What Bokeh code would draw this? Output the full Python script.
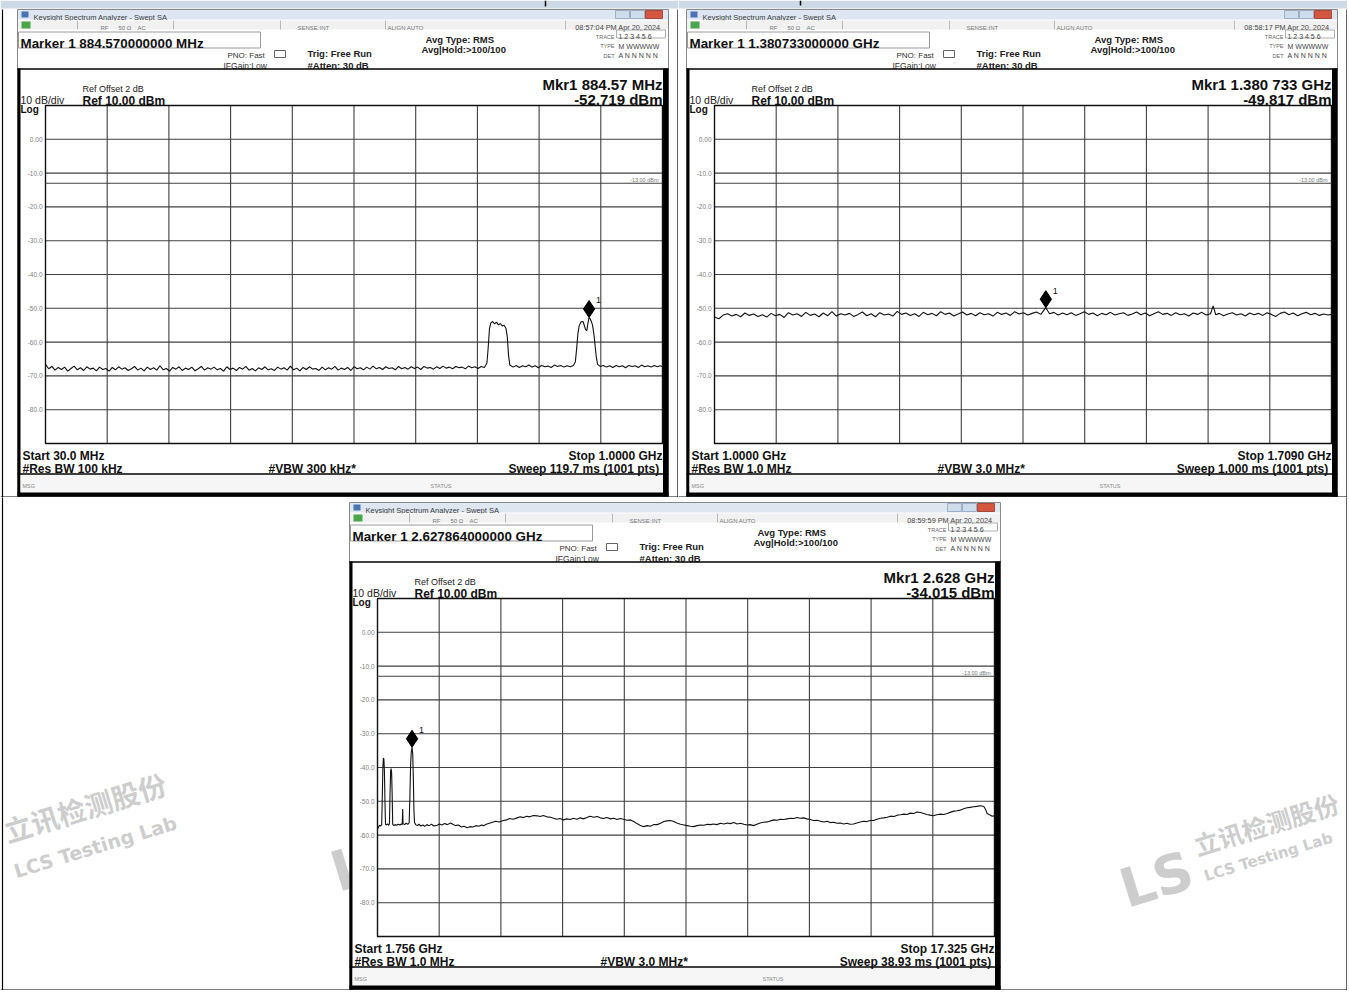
from bokeh.plotting import figure
from bokeh.models import Range1d
from bokeh.layouts import column, row
from bokeh.embed import file_html
from bokeh.resources import INLINE
from bokeh.core.properties import value

FONT = "Liberation Sans"
CJK = "Noto Sans CJK SC"

# ---------------- data ----------------
# Panel 1: 30 MHz - 1 GHz, MHz / dBm
p1_freq = [30, 35, 40, 45, 50, 55, 60, 65, 70, 75, 80, 85, 90, 95, 100, 105, 110, 115, 120, 125,
           130, 135, 140, 145, 150, 155, 160, 165, 170, 175, 180, 185, 190, 195, 200, 205, 210, 215,
           220, 225, 230, 235, 240, 245, 250, 255, 260, 265, 270, 275, 280, 285, 290, 295, 300, 305,
           310, 315, 320, 325, 330, 335, 340, 345, 350, 355, 360, 365, 370, 375, 380, 385, 390, 395,
           400, 405, 410, 415, 420, 425, 430, 435, 440, 445, 450, 455, 460, 465, 470, 475, 480, 485,
           490, 495, 500, 505, 510, 515, 520, 525, 530, 535, 540, 545, 550, 555, 560, 565, 570, 575,
           580, 585, 590, 595, 600, 605, 610, 615, 620, 625, 630, 635, 640, 645, 650, 655, 660, 665,
           670, 675, 680, 685, 690, 695, 700, 705, 710, 715, 720,
           724, 726, 728, 730, 733, 736, 739, 742, 745, 748, 751, 754, 756, 758, 760,
           765, 770, 775, 780, 785, 790, 795, 800, 805, 810, 815, 820, 825, 830, 835, 840, 845, 850,
           855, 860, 863, 865, 867, 869, 872, 875, 877, 879, 881, 883, 884.57, 886, 888, 890, 892,
           894, 896, 898, 902, 907, 912, 917, 922, 927, 932, 937, 942, 947, 952, 957, 962, 967, 972,
           977, 982, 987, 992, 996, 1000]
p1_level = [-66.6, -67.9, -67.2, -68.3, -67.5, -68.1, -67.4, -68.6, -67.8, -67.1, -68.2, -67.6, -68.4,
            -67.3, -68.0, -67.7, -68.5, -67.4, -68.1, -67.8, -68.6, -67.5, -68.2, -67.3, -68.0, -67.6,
            -68.4, -67.9, -67.2, -68.3, -67.7, -68.5, -67.4, -68.1, -67.6, -68.3, -67.0, -68.2, -67.8,
            -68.6, -67.5, -68.0, -67.3, -68.4, -67.7, -68.1, -67.4, -68.5, -67.9, -67.2, -68.3, -67.6,
            -68.0, -67.4, -68.2, -67.8, -68.6, -67.3, -68.1, -67.7, -68.4, -67.5, -68.0, -67.2, -68.3,
            -67.8, -68.5, -67.6, -68.1, -67.3, -68.2, -67.9, -68.4, -67.4, -68.0, -67.6, -68.3, -67.1,
            -68.2, -67.7, -68.5, -67.5, -68.1, -67.3, -68.0, -67.8, -68.4, -67.4, -68.2, -67.6, -68.0,
            -67.2, -68.3, -67.7, -68.1, -67.5, -68.4, -67.3, -67.9, -67.6, -68.2, -67.4, -68.0, -67.1,
            -67.9, -67.5, -68.1, -67.3, -67.8, -67.6, -68.2, -67.2, -67.9, -67.5, -68.0, -67.3, -67.8,
            -67.4, -68.1, -67.2, -67.7, -67.5, -68.0, -67.3, -67.8, -67.1, -67.7, -67.4, -67.9, -67.2,
            -67.6, -67.4, -67.9, -67.1, -67.6, -67.3, -67.8, -67.2, -67.5,
            -66.2, -61.5, -56.0, -54.4, -53.9, -54.6, -54.1, -54.9, -54.5, -55.2, -55.0, -56.0, -58.5,
            -64.0, -66.8,
            -67.4, -66.9, -67.5, -67.0, -67.3, -66.8, -67.4, -67.0, -67.6, -66.9, -67.3, -67.1, -67.5,
            -66.8, -67.2, -66.9, -67.4, -67.0, -67.3, -66.9, -65.8, -62.0, -57.5, -55.2, -54.0, -53.9,
            -55.0, -56.3, -56.6, -54.2, -52.719, -53.0, -53.8, -55.0, -57.4, -61.0, -64.5, -66.6, -67.2,
            -66.9, -67.4, -67.0, -67.5, -66.9, -67.3, -67.0, -67.6, -66.9, -67.2, -67.0, -67.5, -66.8,
            -67.3, -67.0, -67.4, -66.9, -67.3, -67.0, -67.2]

# Panel 2: 1.0 GHz - 1.709 GHz, MHz / dBm
p2_freq = [1000, 1005, 1010, 1015, 1020, 1025, 1030, 1035, 1040, 1045, 1050, 1055, 1060, 1065, 1070,
           1075, 1080, 1085, 1090, 1095, 1100, 1105, 1110, 1115, 1120, 1125, 1130, 1135, 1140, 1145,
           1150, 1155, 1160, 1165, 1170, 1175, 1180, 1185, 1190, 1195, 1200, 1205, 1210, 1215, 1220,
           1225, 1230, 1235, 1240, 1245, 1250, 1255, 1260, 1265, 1270, 1275, 1280, 1285, 1290, 1295,
           1300, 1305, 1310, 1315, 1320, 1325, 1330, 1335, 1340, 1345, 1350, 1355, 1360, 1365, 1370,
           1375, 1380.733, 1385, 1390, 1395, 1400, 1405, 1410, 1415, 1420, 1425, 1430, 1435, 1440,
           1445, 1450, 1455, 1460, 1465, 1470, 1475, 1480, 1485, 1490, 1495, 1500, 1505, 1510, 1515,
           1520, 1525, 1530, 1535, 1540, 1545, 1550, 1555, 1560, 1565, 1570, 1573, 1576, 1580, 1585,
           1590, 1595, 1600, 1605, 1610, 1615, 1620, 1625, 1630, 1635, 1640, 1645, 1650, 1655, 1660,
           1665, 1670, 1675, 1680, 1685, 1690, 1695, 1700, 1705, 1709]
p2_level = [-52.6, -53.1, -52.0, -51.6, -52.3, -51.8, -52.5, -51.4, -52.1, -51.7, -52.4, -51.9, -52.6,
            -51.5, -52.2, -51.8, -52.7, -51.3, -52.0, -51.6, -52.4, -51.2, -52.1, -51.7, -52.5, -51.4,
            -52.2, -51.0, -52.3, -51.6, -52.0, -51.5, -52.4, -51.8, -51.1, -52.2, -51.6, -52.5, -51.3,
            -52.0, -51.7, -52.3, -50.9, -51.8, -51.4, -52.1, -51.6, -52.4, -51.2, -51.9, -51.5, -52.2,
            -51.0, -51.8, -51.4, -52.3, -51.7, -51.1, -52.0, -51.5, -52.2, -51.3, -51.9, -51.6, -52.3,
            -51.2, -51.8, -51.4, -52.1, -51.0, -51.7, -51.3, -52.0, -51.5, -51.1, -51.8, -49.817, -51.6,
            -51.2, -52.0, -51.4, -51.9, -51.3, -52.1, -51.6, -51.0, -51.8, -51.4, -52.2, -51.5, -51.9,
            -51.2, -52.0, -51.6, -51.3, -52.1, -51.7, -51.1, -51.9, -51.4, -52.2, -51.6, -51.0, -51.8,
            -51.5, -52.1, -51.3, -51.9, -51.6, -52.3, -51.4, -51.8, -51.2, -52.0, -51.6, -49.3, -51.9,
            -51.5, -52.2, -51.7, -51.3, -52.0, -51.6, -52.3, -51.4, -51.9, -51.5, -52.1, -51.3, -51.8,
            -52.4, -51.5, -51.1, -51.9, -51.4, -52.2, -51.6, -51.2, -51.9, -51.5, -52.1, -51.7, -52.0,
            -51.8]

# Panel 3: 1.756 GHz - 17.325 GHz, GHz / dBm
p3_freq = [1.756, 1.770, 1.790, 1.810, 1.840, 1.862, 1.875, 1.890, 1.905, 1.918, 1.930, 1.945, 1.958,
           1.985, 2.010, 2.040, 2.058, 2.072, 2.088, 2.100, 2.112, 2.125, 2.140, 2.170, 2.200, 2.240,
           2.280, 2.320, 2.360, 2.380, 2.392, 2.400, 2.440, 2.480, 2.520, 2.555, 2.575, 2.592, 2.610,
           2.628, 2.645, 2.660, 2.675, 2.690, 2.720, 2.760, 2.800, 2.850, 2.900, 2.950, 3.000, 3.060,
           3.120, 3.180, 3.262, 3.320, 3.380, 3.450, 3.520, 3.598, 3.660, 3.720, 3.800, 3.870, 3.940,
           4.019, 4.090, 4.160, 4.240, 4.310, 4.380, 4.431, 4.500, 4.580, 4.660, 4.740, 4.820, 4.935,
           5.010, 5.090, 5.180, 5.281, 5.360, 5.440, 5.520, 5.600, 5.690, 5.786, 5.860, 5.940, 6.030,
           6.121, 6.200, 6.280, 6.360, 6.449, 6.530, 6.620, 6.700, 6.790, 6.870, 6.954, 7.040, 7.120,
           7.210, 7.300, 7.380, 7.460, 7.540, 7.635, 7.720, 7.800, 7.880, 7.960, 8.050, 8.140, 8.220,
           8.300, 8.380, 8.468, 8.560, 8.640, 8.720, 8.814, 8.900, 8.980, 9.060, 9.149, 9.230, 9.310,
           9.400, 9.490, 9.571, 9.650, 9.730, 9.820, 9.900, 9.990, 10.080, 10.160, 10.234, 10.320,
           10.410, 10.500, 10.580, 10.660, 10.750, 10.830, 10.915, 11.000, 11.080, 11.160, 11.244,
           11.330, 11.410, 11.500, 11.589, 11.670, 11.760, 11.840, 11.920, 12.010, 12.094, 12.180,
           12.260, 12.340, 12.420, 12.505, 12.590, 12.670, 12.760, 12.850, 12.934, 13.020, 13.100,
           13.180, 13.262, 13.350, 13.430, 13.520, 13.600, 13.680, 13.767, 13.850, 13.940, 14.020,
           14.100, 14.190, 14.272, 14.360, 14.440, 14.530, 14.617, 14.700, 14.790, 14.870, 14.953,
           15.040, 15.120, 15.200, 15.290, 15.370, 15.458, 15.540, 15.620, 15.700, 15.785, 15.870,
           15.960, 16.040, 16.131, 16.220, 16.300, 16.380, 16.467, 16.550, 16.630, 16.710, 16.795,
           16.880, 16.960, 17.014, 17.060, 17.100, 17.140, 17.200, 17.266, 17.300, 17.325]
p3_level = [-58.2, -57.9, -57.4, -57.1, -57.3, -56.9, -50.0, -40.5, -37.2, -37.6, -41.0, -50.5, -56.8,
            -57.0, -56.7, -57.1, -56.6, -48.0, -41.0, -40.3, -41.5, -47.5, -56.8, -57.2, -56.9, -57.1,
            -56.8, -57.0, -56.7, -56.9, -52.3, -56.6, -56.9, -56.5, -56.8, -56.4, -48.0, -39.0, -35.2,
            -34.015, -36.0, -43.0, -52.5, -56.3, -56.9, -57.2, -56.8, -57.3, -57.0, -57.4, -56.9, -57.2,
            -56.8, -57.3, -57.1, -56.7, -57.0, -56.6, -56.9, -56.4, -56.8, -57.2, -57.0, -57.6, -57.4,
            -57.8, -57.5, -57.6, -57.2, -57.4, -57.0, -57.2, -56.8, -56.5, -56.2, -55.9, -56.1, -55.7,
            -55.5, -55.1, -55.3, -54.9, -54.6, -54.8, -54.4, -54.6, -54.2, -54.3, -54.5, -54.2, -54.6,
            -54.7, -55.0, -55.3, -55.1, -55.5, -55.2, -55.4, -55.0, -55.3, -54.9, -55.2, -54.8, -54.4,
            -54.7, -54.5, -54.9, -55.1, -54.8, -55.2, -55.0, -55.4, -55.1, -55.3, -55.6, -55.5, -56.0,
            -56.6, -57.1, -57.5, -57.2, -57.4, -56.9, -56.9, -56.5, -56.0, -55.8, -55.7, -56.0, -56.4,
            -56.8, -57.0, -57.2, -57.4, -57.5, -57.2, -57.0, -57.1, -56.8, -56.9, -56.7, -56.9,
            -56.5, -56.7, -56.4, -56.6, -56.3, -56.7, -56.5, -56.8, -57.0, -56.9, -57.2,
            -56.8, -56.4, -56.2, -56.1, -55.8, -55.5, -55.6, -55.3, -55.4, -55.2, -55.0,
            -55.1, -54.8, -55.0, -54.9, -55.2, -55.4, -55.7, -55.6, -55.9, -56.1, -55.9,
            -56.3, -56.2, -56.5, -56.4, -56.7, -56.5, -56.8, -56.7, -56.4, -56.1, -55.9,
            -56.0, -55.7, -55.7, -55.3, -55.0, -54.9, -54.7, -54.4, -54.5, -54.1, -54.0,
            -53.8, -53.9, -53.5, -53.6, -53.2, -53.3, -53.6, -53.9, -54.1, -54.3, -54.0,
            -53.8, -53.9, -53.6, -53.2, -52.9, -52.8, -52.6, -52.2, -51.9, -51.8, -51.6,
            -51.5, -51.3, -51.4, -51.6, -52.4, -53.6, -54.0, -54.4, -54.3, -54.6]

y_tick_values = [0, -10, -20, -30, -40, -50, -60, -70, -80]
y_tick_labels = ["0.00", "-10.0", "-20.0", "-30.0", "-40.0", "-50.0", "-60.0", "-70.0", "-80.0"]
limit_level = -13.0

panel1_text = dict(marker="Marker 1 884.570000000 MHz", time="08:57:04 PM Apr 20, 2024",
                   mkr="Mkr1 884.57 MHz", mkrval="-52.719 dBm", start="Start 30.0 MHz",
                   rbw="#Res BW 100 kHz", vbw="#VBW 300 kHz*", stop="Stop 1.0000 GHz",
                   sweep="Sweep  119.7 ms (1001 pts)")
panel2_text = dict(marker="Marker 1 1.380733000000 GHz", time="08:58:17 PM Apr 20, 2024",
                   mkr="Mkr1 1.380 733 GHz", mkrval="-49.817 dBm", start="Start 1.0000 GHz",
                   rbw="#Res BW 1.0 MHz", vbw="#VBW 3.0 MHz*", stop="Stop 1.7090 GHz",
                   sweep="Sweep  1.000 ms (1001 pts)")
panel3_text = dict(marker="Marker 1 2.627864000000 GHz", time="08:59:59 PM Apr 20, 2024",
                   mkr="Mkr1 2.628 GHz", mkrval="-34.015 dBm", start="Start 1.756 GHz",
                   rbw="#Res BW 1.0 MHz", vbw="#VBW 3.0 MHz*", stop="Stop 17.325 GHz",
                   sweep="Sweep  38.93 ms (1001 pts)")

# ---------------- geometry of one analyzer screenshot (panel-local px) ----------------
GL, GT, GW, GH = 28, 96, 617, 338
RTOP, RBOT = 10.0, -90.0


class Panel:
    def __init__(self, W, H, ox, oy, x0, x1):
        self.x0, self.x1 = x0, x1
        self.span = x1 - x0
        self.p = figure(width=W, height=H,
                        x_range=Range1d(self.X(-ox), self.X(W - ox)),
                        y_range=Range1d(self.Y(H - oy), self.Y(-oy)),
                        output_backend="svg", toolbar_location=None, min_border=0,
                        x_axis_location=None, y_axis_location=None,
                        outline_line_color=None, background_fill_color="white",
                        border_fill_color="white")
        self.p.grid.visible = False

    def X(self, lx):
        return self.x0 + (lx - GL) * self.span / GW

    def Y(self, ly):
        return RTOP - (ly - GT) * (RTOP - RBOT) / GH

    def PX(self, f):
        return GL + (f - self.x0) * GW / self.span

    def PY(self, d):
        return GT + (RTOP - d) * GH / (RTOP - RBOT)

    def box(self, l, t, r, b, fill=None, line=None, lw=1.0):
        self.p.quad(left=[self.X(l)], right=[self.X(r)], top=[self.Y(t)], bottom=[self.Y(b)],
                    fill_color=fill, line_color=line, line_width=lw)

    def hl(self, y, xa, xb, color="black", w=1.0):
        self.p.segment(x0=[self.X(xa)], y0=[self.Y(y)], x1=[self.X(xb)], y1=[self.Y(y)],
                       line_color=color, line_width=w)

    def vl(self, x, ya, yb, color="black", w=1.0):
        self.p.segment(x0=[self.X(x)], y0=[self.Y(ya)], x1=[self.X(x)], y1=[self.Y(yb)],
                       line_color=color, line_width=w)

    def txt(self, lx, ly, s, size, bold=False, align="left", color="black",
            baseline="alphabetic", font=FONT, angle=0.0, alpha=1.0):
        self.p.text(x=[self.X(lx)], y=[self.Y(ly)], text=[s], text_font=value(font),
                    text_font_size=value(f"{size}px"),
                    text_font_style="bold" if bold else "normal", text_align=align,
                    text_baseline=baseline, text_color=color, angle=angle, text_alpha=alpha)


def draw_screen(P, freqs, levels, mk_f, mk_v, t):
    # screenshot body
    P.box(0, 0, 651, 487, "white", "#8a8a8a", 1)
    # window title bar
    P.box(0.5, 0.5, 650.5, 10, "#dde6f1", None)
    P.box(4, 2, 11, 8, "#4a74b4", None)
    P.txt(16, 8, "Keysight Spectrum Analyzer - Swept SA", 7.5, color="#3c3c3c")
    P.box(598, 1, 612, 9, "#cfdcec", "#8ea2bd", 0.8)
    P.box(613, 1, 627, 9, "#cfdcec", "#8ea2bd", 0.8)
    P.box(628, 1, 645, 9, "#d4563f", "#9c3426", 0.8)
    # status row
    P.box(0.5, 11, 650.5, 20, "#f1f1f1", None)
    P.box(4, 12, 13, 19, "#4aa64a", None)
    for sx in [60, 156, 263, 368, 548]:
        P.vl(sx, 11, 20, "#b8b8b8", 1)
    for sx, s in [(83, "RF"), (101, "50 \u03a9"), (120, "AC"), (280, "SENSE:INT"), (370, "ALIGN AUTO")]:
        P.txt(sx, 18, s, 6, color="#777777")
    P.txt(643, 18, t["time"], 7.3, align="right", color="#444444")
    # marker readout box
    P.box(1, 22.5, 243, 38.5, "white", "#9a9a9a", 1)
    P.txt(3, 33.5, t["marker"], 13.4, bold=True, color="#111111")
    P.txt(210, 46, "PNO: Fast", 8, color="#333333")
    P.txt(206, 56, "IFGain:Low", 8.5, color="#333333")
    P.box(257, 41, 268, 48, "white", "#555555", 0.9)
    P.txt(290, 44, "Trig: Free Run", 9.5, bold=True, color="#222222")
    P.txt(290, 56, "#Atten: 30 dB", 9.5, bold=True, color="#222222")
    P.txt(408, 29.5, "Avg Type: RMS", 9.5, bold=True, color="#222222")
    P.txt(404, 39.5, "Avg|Hold:>100/100", 9.5, bold=True, color="#222222")
    P.txt(597, 27, "TRACE", 5.5, align="right", color="#666666")
    P.txt(597, 36.5, "TYPE", 5.5, align="right", color="#666666")
    P.txt(597, 46, "DET", 5.5, align="right", color="#666666")
    P.box(599, 20.5, 648, 28.5, None, "#999999", 0.8)
    P.txt(601, 27, "1 2 3 4 5 6", 7, color="#444444")
    P.txt(601, 36.5, "M WWWWW", 7, color="#444444")
    P.txt(601, 46, "A N N N N N", 7, color="#444444")
    # main measurement box
    P.hl(59.5, 0, 651, "black", 1.5)
    P.box(0, 59, 3, 487, "black", None)
    P.box(645.5, 59, 651, 487, "black", None)
    P.hl(464.5, 0, 651, "black", 1.3)
    P.box(3, 465.5, 645.5, 483, "#f6f6f6", None)
    P.box(0, 483, 651, 487, "black", None)
    P.txt(5, 476, "MSG", 5.5, color="#888888")
    P.txt(413, 476, "STATUS", 5.5, color="#888888")
    # header texts of the graticule
    P.txt(65, 79.5, "Ref Offset 2 dB", 9, color="#222222")
    P.txt(3, 90, "10 dB/div", 10.5, color="#222222")
    P.txt(65, 91, "Ref 10.00 dBm", 12, bold=True, color="#111111")
    P.txt(3, 100, "Log", 10, bold=True, color="#111111")
    P.txt(645, 75, t["mkr"], 15, bold=True, align="right", color="#111111")
    P.txt(645, 90, t["mkrval"], 15, bold=True, align="right", color="#111111")
    # footer texts
    P.txt(5, 446.5, t["start"], 12, bold=True, color="#111111")
    P.txt(5, 459.5, t["rbw"], 12, bold=True, color="#111111")
    P.txt(251, 459.5, t["vbw"], 12, bold=True, color="#111111")
    P.txt(645, 446.5, t["stop"], 12, bold=True, align="right", color="#111111")
    P.txt(645, 459.5, t["sweep"], 12, bold=True, align="right", color="#111111")

    p = P.p
    x0, x1 = P.x0, P.x1
    # graticule (10 x 10 divisions)
    vx = [x0 + i * (x1 - x0) / 10 for i in range(1, 10)]
    p.segment(x0=vx, y0=[RBOT] * 9, x1=vx, y1=[RTOP] * 9, line_color="#404040", line_width=1.1)
    hy = [RTOP - 10 * j for j in range(1, 10)]
    p.segment(x0=[x0] * 9, y0=hy, x1=[x1] * 9, y1=hy, line_color="#404040", line_width=1.1)
    p.quad(left=[x0], right=[x1], top=[RTOP], bottom=[RBOT], fill_color=None,
           line_color="#111111", line_width=1.4)
    # limit line
    p.segment(x0=[x0], y0=[limit_level], x1=[x1], y1=[limit_level], line_color="#404040",
              line_width=1.1)
    P.txt(641, P.PY(limit_level) - 3.5, "-13.00 dBm", 5.5, align="right", color="#777777",
          baseline="middle")
    # y tick labels
    for v, s in zip(y_tick_values, y_tick_labels):
        P.txt(25, P.PY(v), s, 6.5, align="right", color="#808080", baseline="middle")
    # trace
    p.line(freqs, levels, line_color="#111111", line_width=1.1)
    # marker diamond
    mx, my = P.PX(mk_f), P.PY(mk_v)
    p.scatter([mk_f], [P.Y(my - 8.5)], marker="diamond", size=17, fill_color="black",
              line_color="black")
    P.txt(mx + 7, my - 17, "1", 9, color="#111111", baseline="middle")


# top-left cell  (page x 0..678, y 0..497); screenshot origin at (17, 9)
A = Panel(678, 497, 17, 9, 30.0, 1000.0)
A.box(-17, -9, 661, -1, "#cdd9e6", None)
A.vl(528, -9, -3, "black", 1.5)
draw_screen(A, p1_freq, p1_level, 884.57, -52.719, panel1_text)
A.vl(-15, 0, 489, "black", 1.2)
A.vl(660.5, 0, 489, "black", 1.2)
A.hl(487.5, -17, 661, "black", 1.2)

# top-right cell (page x 678..1347); screenshot origin at (686, 9)
B = Panel(669, 497, 8, 9, 1000.0, 1709.0)
B.box(-8, -9, 661, -1, "#cdd9e6", None)
B.vl(114, -9, -4, "black", 1.5)
draw_screen(B, p2_freq, p2_level, 1380.733, -49.817, panel2_text)
B.hl(487.5, -8, 661, "black", 1.2)
B.vl(660.5, 0, 489, "black", 1.2)

# bottom merged cell (page y 497..990); screenshot origin at (349, 502)
C = Panel(1347, 493, 349, 5, 1.756, 17.325)
WM = "#cdcdcd"
ang = 0.297
C.txt(-345, 329, "立讯检测股份", 28, bold=True, color=WM, font=CJK, angle=ang)
C.txt(-335, 369, "LCS Testing Lab", 19, bold=True, color=WM, font="DejaVu Sans", angle=ang)
C.txt(-17, 371, "LS", 56, bold=True, color=WM, font="DejaVu Sans", angle=ang)
C.txt(845, 343, "立讯检测股份", 25, bold=True, color=WM, font=CJK, angle=ang)
C.txt(855, 374, "LCS Testing Lab", 15, bold=True, color=WM, font="DejaVu Sans", angle=ang)
C.txt(772, 388, "LS", 54, bold=True, color=WM, font="DejaVu Sans", angle=ang)
draw_screen(C, p3_freq, p3_level, 2.628, -34.015, panel3_text)
C.vl(-347, -6, 488, "black", 1.2)
C.vl(997.5, -6, 488, "black", 1.2)
C.hl(487.5, -349, 998, "black", 1.2)

layout = column(row(A.p, B.p, spacing=0), C.p, spacing=0)
open("out.html", "w").write(file_html(layout, INLINE))
